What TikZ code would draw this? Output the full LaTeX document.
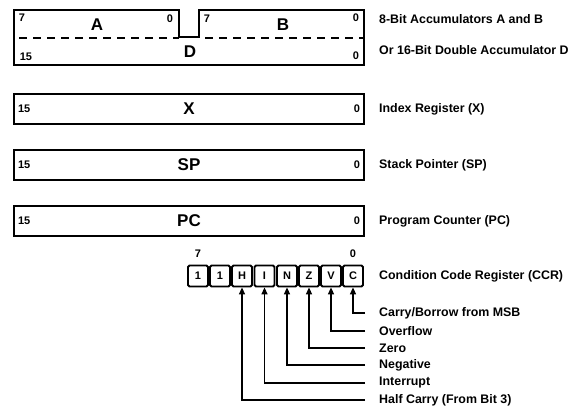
\documentclass[tikz,border=0pt]{standalone}
\usepackage{fontspec}
\setmainfont{Liberation Sans}
\usetikzlibrary{arrows.meta}
\begin{document}
\begin{tikzpicture}[x=1pt,y=-1pt,
  reg/.style={draw, line width=2.2pt},
  regbox/.style={draw, line width=2.2pt, minimum width=350pt, minimum height=30pt, inner sep=0pt},
  bitnum/.style={font=\fontsize{11}{11}\selectfont\bfseries, inner sep=0pt},
  regname/.style={font=\fontsize{17}{17}\selectfont\bfseries, inner sep=0pt},
  lbl/.style={font=\fontsize{12.4}{13}\selectfont\bfseries, anchor=west, inner sep=0pt},
  cell/.style={draw, line width=1.8pt, rounded corners=1.5pt, minimum width=20pt, minimum height=21pt, inner sep=0pt, font=\fontsize{11}{11}\selectfont\bfseries},
  arr/.style={line width=1.5pt, -{Triangle[length=7pt,width=6pt]}}
]
\useasboundingbox (0,0) rectangle (577,407);

% Accumulators A, B / D
\draw[reg] (14,10) -- (179,10) -- (179,37) -- (199,37) -- (199,10) -- (364,10) -- (364,65) -- (14,65) -- cycle;
\draw[line width=1.8pt, dash pattern=on 8pt off 6pt] (19,38) -- (179,38);
\draw[line width=1.8pt, dash pattern=on 8pt off 6pt] (205,38) -- (364,38);
\node[bitnum] (a7) at (22,18) {7};
\node[regname] (A) at (97,25) {A};
\node[bitnum] (a0) at (170,19) {0};
\node[bitnum] (b7) at (207,19) {7};
\node[regname] (B) at (283,25) {B};
\node[bitnum] (b0) at (356,18) {0};
\node[bitnum] (d15) at (26,57) {15};
\node[regname] (D) at (190,52) {D};
\node[bitnum] (d0) at (356,56) {0};
\node[lbl] (lAB) at (379,19) {8-Bit Accumulators A and B};
\node[lbl] (lD) at (379,50) {Or 16-Bit Double Accumulator D};

% X
\node[regbox] (X) at (189,109) {};
\node[bitnum, anchor=west] at ([xshift=5pt]X.west) {15};
\node[regname] at (X.center) {X};
\node[bitnum, anchor=east] at ([xshift=-5pt]X.east) {0};
\node[lbl] (lX) at (379,109) {Index Register (X)};

% SP
\node[regbox] (SP) at (189,165) {};
\node[bitnum, anchor=west] at ([xshift=5pt]SP.west) {15};
\node[regname] at (SP.center) {SP};
\node[bitnum, anchor=east] at ([xshift=-5pt]SP.east) {0};
\node[lbl] (lSP) at (379,165) {Stack Pointer (SP)};

% PC
\node[regbox] (PC) at (189,221) {};
\node[bitnum, anchor=west] at ([xshift=5pt]PC.west) {15};
\node[regname] at (PC.center) {PC};
\node[bitnum, anchor=east] at ([xshift=-5pt]PC.east) {0};
\node[lbl] (lPC) at (379,221) {Program Counter (PC)};

% CCR
\node[cell] (c7) at (198,276) {1};
\node[cell] (c6) at (220,276) {1};
\node[cell] (cH) at (242,276) {H};
\node[cell] (cI) at (264.5,276) {I};
\node[cell] (cN) at (287,276) {N};
\node[cell] (cZ) at (309,276) {Z};
\node[cell] (cV) at (331,276) {V};
\node[cell] (cC) at (353,276) {C};
\node[bitnum] at (198,254) {7};
\node[bitnum] at (353,254) {0};
\node[lbl] (lCCR) at (379,276) {Condition Code Register (CCR)};

\node[lbl] (lC) at (379,313) {Carry/Borrow from MSB};
\node[lbl] (lV) at (379,331) {Overflow};
\node[lbl] (lZ) at (379,348) {Zero};
\node[lbl] (lN) at (379,365) {Negative};
\node[lbl] (lI) at (379,383) {Interrupt};
\node[lbl] (lHc) at (379,400) {Half Carry (From Bit 3)};

\coordinate (eC) at (365,313);
\coordinate (eV) at (365,331);
\coordinate (eZ) at (365,348);
\coordinate (eN) at (365,365);
\coordinate (eI) at (365,383);
\coordinate (eH) at (365,400);
\draw[arr] (eC) -| (cC.south);
\draw[arr] (eV) -| (cV.south);
\draw[arr] (eZ) -| (cZ.south);
\draw[arr] (eN) -| (cN.south);
\draw[arr] (eI) -| (cI.south);
\draw[arr] (eH) -| (cH.south);
\end{tikzpicture}
\end{document}
